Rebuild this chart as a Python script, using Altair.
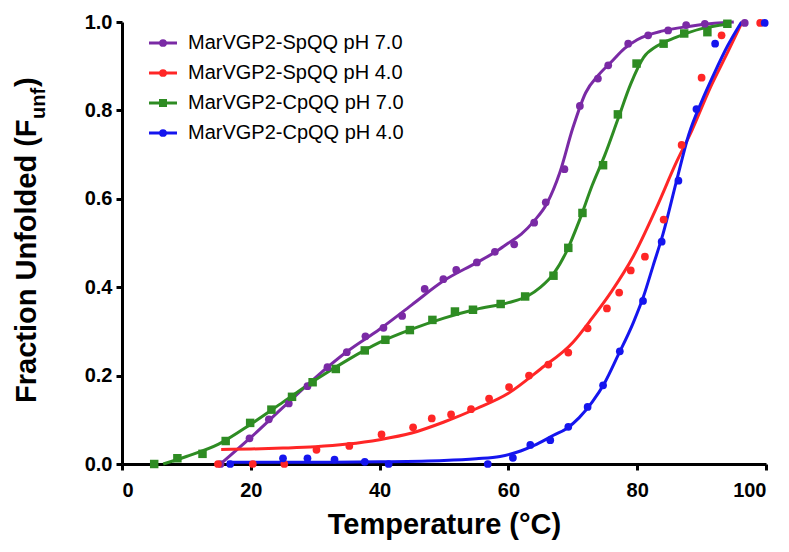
import altair as alt
import pandas as pd

series_names = ["MarVGP2-SpQQ pH 7.0", "MarVGP2-SpQQ pH 4.0",
                "MarVGP2-CpQQ pH 7.0", "MarVGP2-CpQQ pH 4.0"]
series_colors = ["#7A2AA5", "#FF2626", "#2E8C23", "#1515EE"]
series_shapes = ["circle", "circle", "square", "circle"]

x_ticks = [0, 20, 40, 60, 80, 100]
y_ticks = [0.0, 0.2, 0.4, 0.6, 0.8, 1.0]
x_title = "Temperature (°C)"
y_title_parts = ["Fraction Unfolded (F", "unf", ")"]

# measured points
sp7_T = [15.3, 19.8, 22.8, 25.9, 28.8, 31.9, 34.9, 37.8, 40.6, 43.5, 47.0, 49.9, 51.9, 55.1,
         57.9, 60.9, 64.0, 65.8, 68.7, 71.1, 73.9, 75.5, 78.6, 81.7, 84.8, 87.6, 90.5, 96.7]
sp7_F = [0.0, 0.058, 0.101, 0.137, 0.176, 0.219, 0.253, 0.289, 0.308, 0.335, 0.396, 0.418, 0.439, 0.456,
         0.48, 0.497, 0.546, 0.592, 0.667, 0.810, 0.872, 0.902, 0.951, 0.970, 0.981, 0.993, 0.996, 0.998]

sp4_T = [14.9, 20.3, 25.2, 30.2, 35.3, 40.3, 45.2, 48.1, 51.1, 54.2, 57.0, 60.1, 63.2, 66.2,
         69.3, 72.3, 75.3, 77.2, 79.0, 81.2, 84.1, 86.9, 90.0, 93.1, 99.1]
sp4_F = [0.0, 0.0, 0.0, 0.032, 0.041, 0.067, 0.083, 0.103, 0.112, 0.124, 0.148, 0.174, 0.200, 0.225,
         0.252, 0.307, 0.352, 0.388, 0.438, 0.469, 0.553, 0.722, 0.874, 0.970, 0.998]

cp7_T = [5.0, 8.6, 12.5, 16.1, 19.9, 23.2, 26.4, 29.6, 33.2, 37.7, 40.9, 44.7, 48.2, 51.7,
         54.5, 58.8, 62.6, 67.0, 69.3, 71.5, 74.7, 77.0, 79.9, 84.1, 87.3, 90.9, 94.0]
cp7_F = [0.0, 0.013, 0.023, 0.052, 0.093, 0.123, 0.152, 0.185, 0.215, 0.257, 0.281, 0.303, 0.326, 0.345,
         0.349, 0.362, 0.379, 0.426, 0.489, 0.568, 0.676, 0.791, 0.906, 0.951, 0.974, 0.977, 0.996]

cp4_T = [16.8, 25.0, 28.8, 33.0, 37.7, 41.4, 56.8, 60.7, 63.4, 66.5, 69.3, 72.3, 74.7, 77.3,
         80.9, 83.8, 86.4, 89.2, 92.1, 99.8]
cp4_F = [0.0, 0.013, 0.013, 0.010, 0.005, 0.0, 0.0, 0.014, 0.043, 0.054, 0.084, 0.129, 0.178, 0.255,
         0.369, 0.503, 0.641, 0.803, 0.951, 0.998]

# fitted curves
sp7_fit_T = [15.3, 20, 25, 30, 35, 40, 45, 50, 55, 58, 60, 62, 64, 66, 68, 70, 72, 74, 76, 78, 80, 84, 88, 92, 95]
sp7_fit_F = [0.0, 0.06, 0.128, 0.195, 0.255, 0.305, 0.36, 0.415, 0.455, 0.48, 0.5, 0.52, 0.55, 0.59,
             0.66, 0.76, 0.84, 0.88, 0.91, 0.94, 0.96, 0.98, 0.99, 0.997, 1.0]

sp4_fit_T = [15.4, 20, 25, 30, 35, 40, 45, 50, 55, 60, 65, 70, 73, 76, 79.4, 83, 86, 88.5, 91.3, 94, 96.3]
sp4_fit_F = [0.033, 0.034, 0.036, 0.039, 0.045, 0.055, 0.07, 0.095, 0.125, 0.16, 0.215, 0.275, 0.33,
             0.39, 0.47, 0.58, 0.68, 0.755, 0.85, 0.93, 1.0]

cp7_fit_T = [6.4, 10, 15, 20, 25, 30, 35, 40, 45, 50, 55, 60, 63, 65, 67, 69, 71, 73, 75, 77, 79, 81, 83, 86, 90, 94]
cp7_fit_F = [0.0, 0.017, 0.045, 0.09, 0.14, 0.19, 0.235, 0.275, 0.305, 0.33, 0.35, 0.365, 0.38, 0.40,
             0.43, 0.48, 0.55, 0.63, 0.70, 0.78, 0.86, 0.92, 0.945, 0.965, 0.985, 0.995]

cp4_fit_T = [16.3, 30, 40, 50, 55, 58.7, 62, 64, 67, 69, 71, 73, 75, 77, 79.4, 81, 82.5, 84, 86.1, 88, 90, 92, 94, 96.2]
cp4_fit_F = [0.004, 0.004, 0.005, 0.008, 0.012, 0.017, 0.03, 0.042, 0.065, 0.08, 0.105, 0.14, 0.185,
             0.245, 0.32, 0.38, 0.45, 0.52, 0.64, 0.745, 0.82, 0.885, 0.945, 1.0]


def frame(name, t, f):
    return pd.DataFrame({"T": t, "F": f, "series": name, "i": list(range(len(t)))})


circ_df = pd.concat([frame(series_names[0], sp7_T, sp7_F),
                     frame(series_names[1], sp4_T, sp4_F),
                     frame(series_names[3], cp4_T, cp4_F)])
sq_df = frame(series_names[2], cp7_T, cp7_F)
fit_df = pd.concat([frame(series_names[0], sp7_fit_T, sp7_fit_F),
                    frame(series_names[1], sp4_fit_T, sp4_fit_F),
                    frame(series_names[2], cp7_fit_T, cp7_fit_F),
                    frame(series_names[3], cp4_fit_T, cp4_fit_F)])

FONT = "Liberation Sans"

x_enc = alt.X("T:Q", scale=alt.Scale(domain=[0, 100], nice=False, zero=False),
              axis=alt.Axis(values=x_ticks, title=x_title, format="d"))
y_enc = alt.Y("F:Q", scale=alt.Scale(domain=[0, 1], nice=False, zero=False),
              axis=alt.Axis(values=y_ticks, title=None, format=".1f"))
color_scale = alt.Scale(domain=series_names, range=series_colors)

fits = alt.Chart(fit_df).mark_line(strokeWidth=3, interpolate="monotone").encode(
    x=x_enc, y=y_enc,
    color=alt.Color("series:N", scale=color_scale, legend=None),
    order=alt.Order("i:Q"),
)
circles = alt.Chart(circ_df).mark_circle(size=60, opacity=1).encode(
    x=x_enc, y=y_enc,
    color=alt.Color("series:N", scale=color_scale, legend=None),
)
squares = alt.Chart(sq_df).mark_square(size=72, opacity=1).encode(
    x=x_enc, y=y_enc,
    color=alt.Color("series:N", scale=color_scale, legend=None),
)

# hand-drawn legend (line + marker + label per row)
LEG_X, LEG_Y0, LEG_STEP, LEG_LEN = 27, 21, 30, 28
legend_layers = []
for k, name in enumerate(series_names):
    yc = LEG_Y0 + LEG_STEP * k
    row_df = pd.DataFrame({"label": [name]})
    legend_layers.append(alt.Chart(row_df).mark_rule(strokeWidth=3, color=series_colors[k]).encode(
        x=alt.value(LEG_X), x2=alt.value(LEG_X + LEG_LEN), y=alt.value(yc)))
    legend_layers.append(alt.Chart(row_df).mark_point(filled=True, opacity=1, shape=series_shapes[k],
                                                      size=60 if series_shapes[k] == "circle" else 64,
                                                      color=series_colors[k]).encode(
        x=alt.value(LEG_X + LEG_LEN / 2), y=alt.value(yc)))
    legend_layers.append(alt.Chart(row_df).mark_text(align="left", baseline="middle", font=FONT,
                                                     fontSize=20, color="black").encode(
        text="label:N", x=alt.value(LEG_X + LEG_LEN + 11), y=alt.value(yc)))

title_df = pd.DataFrame({"a": [y_title_parts[0]], "b": [y_title_parts[1]], "c": [y_title_parts[2]]})
t_main = alt.Chart(title_df).mark_text(angle=270, align="left", baseline="alphabetic", font=FONT,
                                        fontWeight="bold", fontSize=29, color="black").encode(
    text="a:N", x=alt.value(-86), y=alt.value(381))
t_sub = alt.Chart(title_df).mark_text(angle=270, align="left", baseline="alphabetic", font=FONT,
                                       fontWeight="bold", fontSize=20, color="black").encode(
    text="b:N", x=alt.value(-77), y=alt.value(97))
t_end = alt.Chart(title_df).mark_text(angle=270, align="left", baseline="alphabetic", font=FONT,
                                       fontWeight="bold", fontSize=29, color="black").encode(
    text="c:N", x=alt.value(-86), y=alt.value(65))

chart = alt.layer(fits, circles, squares, *legend_layers, t_main, t_sub, t_end).properties(
    width=644, height=442,
    autosize=alt.AutoSizeParams(type="none"),
    padding={"left": 114, "top": 14, "right": 15, "bottom": 80},
).configure_view(stroke=None).configure_axis(
    grid=False, domainColor="black", domainWidth=3, tickColor="black", tickWidth=3, tickSize=6,
    labelFont=FONT, labelFontWeight="bold", labelFontSize=20, labelColor="black",
    titleFont=FONT, titleFontWeight="bold", titleFontSize=29, titleColor="black",
).configure_axisX(labelPadding=10, titlePadding=10).configure_axisY(labelPadding=4)

chart.save("out.html", embed_options={"renderer": "svg", "actions": False})
